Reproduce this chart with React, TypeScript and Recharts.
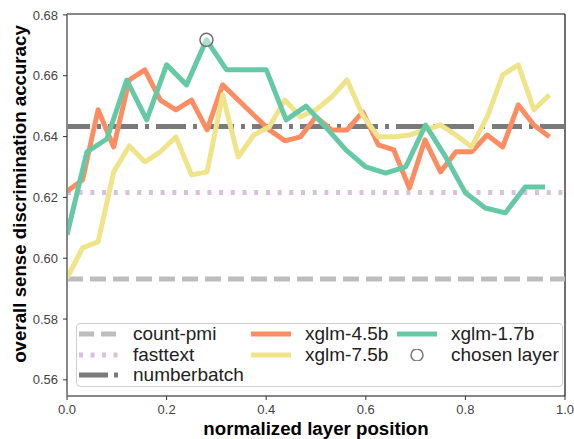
import React from 'react';
import { ComposedChart, Line, XAxis, YAxis, ReferenceLine, Scatter, Legend } from 'recharts';

const FONT = '"Liberation Sans", Arial, Helvetica, sans-serif';

// ---------- data ----------
const xTicks = [0, 0.2, 0.4, 0.6, 0.8, 1.0];
const yTicks = [0.56, 0.58, 0.6, 0.62, 0.64, 0.66, 0.68];
const yDomain = [0.5547, 0.6803];

const countPmi = 0.5932;
const fasttext = 0.6216;
const numberbatch = 0.6433;

// xglm-4.5b: 32 layers, position = i / 32
const xglm45 = [
  0.622, 0.6257, 0.6488, 0.6366, 0.6586, 0.6619, 0.652, 0.6488, 0.652, 0.6422,
  0.657, 0.652, 0.6471, 0.6422, 0.6386, 0.6399, 0.6465, 0.6422, 0.6422, 0.6481,
  0.6373, 0.6356, 0.6231, 0.6389, 0.6284, 0.635, 0.635, 0.6405, 0.6366, 0.6504,
  0.6438, 0.6399,
];
// xglm-7.5b: 32 layers, position = i / 32
const xglm75 = [
  0.5935, 0.6034, 0.6054, 0.6284, 0.6369, 0.6317, 0.635, 0.6399, 0.6274, 0.6284,
  0.6537, 0.6333, 0.6405, 0.6432, 0.652, 0.6465, 0.6488, 0.653, 0.6586, 0.647,
  0.6399, 0.6399, 0.6405, 0.6422, 0.6438, 0.6405, 0.6366, 0.6465, 0.6603, 0.6636,
  0.6488, 0.6537,
];
// xglm-1.7b: 25 positions, position = i / 25
const xglm17 = [
  0.6077, 0.635, 0.6392, 0.6586, 0.6455, 0.6636, 0.657, 0.6718, 0.662, 0.662,
  0.662, 0.6455, 0.65, 0.643, 0.6356, 0.63, 0.628, 0.63, 0.6438, 0.6334,
  0.6215, 0.6165, 0.6149, 0.6234, 0.6234,
];
const chosenPosition = [0.28];
const chosenAccuracy = [0.6718];

const toPoints = (vals: number[], n: number) => vals.map((v, i) => ({ x: i / n, y: v }));
const data45 = toPoints(xglm45, 32);
const data75 = toPoints(xglm75, 32);
const data17 = toPoints(xglm17, 25);
const chosenData = chosenPosition.map((p, i) => ({ x: p, y: chosenAccuracy[i] }));

// ---------- styles ----------
const C_PMI = '#bdbdbd';
const C_FT = '#d9c0dc';
const C_NB = '#7a7a7a';
const C_45 = '#fc8d62';
const C_75 = '#efe48a';
const C_17 = '#66c9a6';
const LW = 5;

const Handle = ({ color, dash, kind }: { color: string; dash?: string; kind?: string }) => (
  <svg width={44} height={12} style={{ display: 'block' }}>
    {kind === 'circle' ? (
      <circle cx={22} cy={6} r={6} fill="none" stroke="#777" strokeWidth={1.5} />
    ) : (
      <line x1={2} y1={6} x2={42} y2={6} stroke={color} strokeWidth={LW} strokeDasharray={dash} />
    )}
  </svg>
);

const LegendBox = () => {
  const items = [
    { label: 'count-pmi', color: C_PMI, dash: '15 7', col: 0, row: 0 },
    { label: 'fasttext', color: C_FT, dash: '4 7.5', col: 0, row: 1 },
    { label: 'numberbatch', color: C_NB, dash: '29 6 4 6', col: 0, row: 2 },
    { label: 'xglm-4.5b', color: C_45, col: 1, row: 0 },
    { label: 'xglm-7.5b', color: C_75, col: 1, row: 1 },
    { label: 'xglm-1.7b', color: C_17, col: 2, row: 0 },
    { label: 'chosen layer', color: '#777', kind: 'circle', col: 2, row: 1 },
  ];
  const colX = [0, 172, 318];
  return (
    <div
      style={{
        position: 'absolute',
        left: 76,
        top: 323,
        width: 487,
        height: 64,
        boxSizing: 'border-box',
        border: '1px solid #cfcfcf',
        borderRadius: 4,
        background: 'rgba(255,255,255,0.85)',
        fontFamily: FONT,
        fontSize: 19,
        color: '#222',
      }}
    >
      {items.map((it) => (
        <div
          key={it.label}
          style={{
            position: 'absolute',
            left: colX[it.col],
            top: 0 + it.row * 20.5,
            height: 20,
            display: 'flex',
            alignItems: 'center',
            whiteSpace: 'nowrap',
          }}
        >
          <Handle color={it.color} dash={(it as any).dash} kind={(it as any).kind} />
          <span style={{ marginLeft: 12, lineHeight: '20px' }}>{it.label}</span>
        </div>
      ))}
    </div>
  );
};

const XLabel = (props: any) => {
  const vb = props.viewBox || { x: 67, y: 396, width: 498 };
  return (
    <text
      x={vb.x + vb.width / 2}
      y={vb.y + 34}
      textAnchor="middle"
      dominantBaseline="middle"
      fontFamily={FONT}
      fontWeight="bold"
      fontSize={18.7}
      fill="#000"
    >
      normalized layer position
    </text>
  );
};

const YLabel = () => (
  <text
    x={21}
    y={194}
    transform="rotate(-90, 21, 194)"
    textAnchor="middle"
    dominantBaseline="middle"
    fontFamily={FONT}
    fontWeight="bold"
    fontSize={18.7}
    fill="#000"
  >
    overall sense discrimination accuracy
  </text>
);

const ChosenShape = (props: any) => (
  <circle cx={props.cx} cy={props.cy} r={6.5} fill="#fff" fillOpacity={0.45} stroke="#6e6e6e" strokeWidth={1.5} />
);

export default function App() {
  return (
    <div style={{ position: 'absolute', left: 0, top: 0, width: 574, height: 439, fontFamily: FONT, background: '#fff' }}>
      <ComposedChart width={574} height={439} margin={{ top: 14, right: 9, bottom: 0, left: 0 }}>
        <XAxis
          type="number"
          dataKey="x"
          domain={[0, 1]}
          ticks={xTicks}
          allowDataOverflow
          tickFormatter={(v: number) => v.toFixed(1)}
          height={43}
          tickSize={4}
          tickMargin={5}
          tick={{ fill: '#444', fontSize: 13, fontFamily: FONT }}
          axisLine={{ stroke: '#111', strokeWidth: 1.2 }}
          tickLine={{ stroke: '#333' }}
          label={(p: any) => <XLabel {...p} />}
        />
        <YAxis
          type="number"
          dataKey="y"
          domain={yDomain}
          ticks={yTicks}
          allowDataOverflow
          tickFormatter={(v: number) => v.toFixed(2)}
          width={67}
          tickSize={4}
          tickMargin={5}
          tick={{ fill: '#444', fontSize: 13, fontFamily: FONT }}
          axisLine={{ stroke: '#888', strokeWidth: 2 }}
          tickLine={{ stroke: '#333' }}
          label={() => <YLabel />}
        />
        <ReferenceLine y={yDomain[1]} stroke="#111" strokeWidth={1.2} />
        <ReferenceLine x={1} stroke="#111" strokeWidth={1.2} />
        <ReferenceLine y={countPmi} stroke={C_PMI} strokeWidth={LW} strokeDasharray="16 7" />
        <ReferenceLine y={fasttext} stroke={C_FT} strokeWidth={LW} strokeDasharray="4 7.7" />
        <ReferenceLine y={numberbatch} stroke={C_NB} strokeWidth={LW} strokeDasharray="30 7 4 7" strokeDashoffset={7} />
        <Line data={data45} dataKey="y" stroke={C_45} strokeWidth={LW} dot={false} isAnimationActive={false} strokeLinejoin="round" type="linear" />
        <Line data={data75} dataKey="y" stroke={C_75} strokeWidth={LW} dot={false} isAnimationActive={false} strokeLinejoin="round" type="linear" />
        <Line data={data17} dataKey="y" stroke={C_17} strokeWidth={LW} dot={false} isAnimationActive={false} strokeLinejoin="round" type="linear" />
        <Scatter data={chosenData} dataKey="y" shape={<ChosenShape />} isAnimationActive={false} />
      </ComposedChart>
      <LegendBox />
    </div>
  );
}
